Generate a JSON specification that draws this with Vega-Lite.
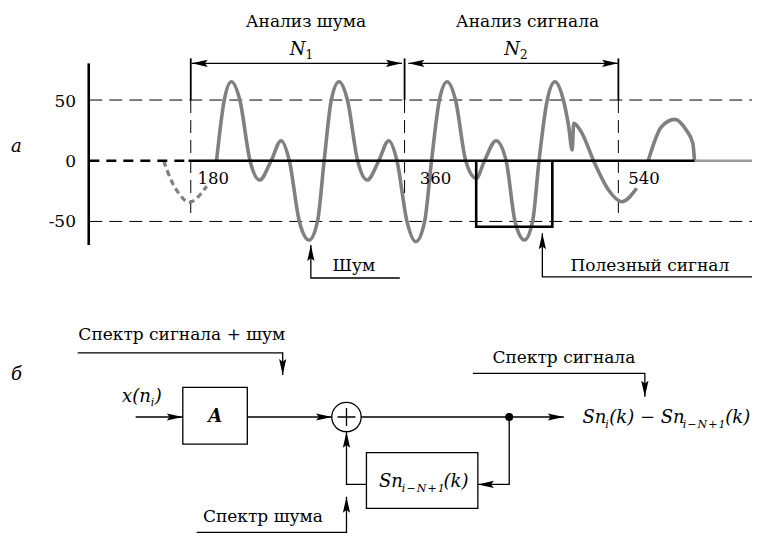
{
  "$schema": "https://vega.github.io/schema/vega-lite/v6.json",
  "width": 758,
  "height": 536,
  "autosize": {"type": "fit", "contains": "padding"},
  "padding": 0,
  "background": "white",
  "config": {"view": {"stroke": null}, "text": {"font": "DejaVu Serif", "color": "black", "baseline": "alphabetic"}},
  "datasets": {
    "wave": [
      {"seg": "lead", "x": 157.2, "y": 0},
      {"seg": "lead", "x": 160.0, "y": -7.7},
      {"seg": "lead", "x": 164.1, "y": -17.3},
      {"seg": "lead", "x": 171.1, "y": -28.3},
      {"seg": "lead", "x": 178.5, "y": -34.5},
      {"seg": "lead", "x": 186.4, "y": -29.5},
      {"seg": "lead", "x": 193.4, "y": -21},
      {"seg": "s1", "x": 201.7, "y": 0},
      {"seg": "s1", "x": 208.2, "y": 50},
      {"seg": "s1", "x": 214.2, "y": 65.1},
      {"seg": "s1", "x": 221.3, "y": 50},
      {"seg": "s1", "x": 229.9, "y": 0},
      {"seg": "s1", "x": 238.0, "y": -15.9},
      {"seg": "s1", "x": 247.7, "y": 0},
      {"seg": "s1", "x": 256.0, "y": 16.5},
      {"seg": "s1", "x": 263.0, "y": 0},
      {"seg": "s1", "x": 271.4, "y": -50},
      {"seg": "s1", "x": 279.7, "y": -65.3},
      {"seg": "s1", "x": 286.7, "y": -50},
      {"seg": "s1", "x": 292.3, "y": 0},
      {"seg": "s1", "x": 298.3, "y": 50},
      {"seg": "s1", "x": 304.8, "y": 65.1},
      {"seg": "s1", "x": 311.9, "y": 50},
      {"seg": "s1", "x": 320.5, "y": 0},
      {"seg": "s1", "x": 328.6, "y": -15.9},
      {"seg": "s1", "x": 338.3, "y": 0},
      {"seg": "s1", "x": 346.6, "y": 16.5},
      {"seg": "s1", "x": 353.6, "y": 0},
      {"seg": "s1", "x": 362.0, "y": -50},
      {"seg": "s1", "x": 369.5, "y": -66.7},
      {"seg": "s1", "x": 376.9, "y": -50},
      {"seg": "s1", "x": 382.7, "y": 0},
      {"seg": "s1", "x": 389.3, "y": 50},
      {"seg": "s1", "x": 395.8, "y": 65.1},
      {"seg": "s1", "x": 402.9, "y": 50},
      {"seg": "s1", "x": 411.5, "y": 0},
      {"seg": "s1", "x": 420.3, "y": -14.5},
      {"seg": "s1", "x": 427.3, "y": 0},
      {"seg": "s1", "x": 437.0, "y": 16.5},
      {"seg": "s1", "x": 445.5, "y": 0},
      {"seg": "s1", "x": 453.0, "y": -50},
      {"seg": "s1", "x": 461.0, "y": -65.3},
      {"seg": "s1", "x": 467.8, "y": -50},
      {"seg": "s1", "x": 473.2, "y": 0},
      {"seg": "s1", "x": 480.1, "y": 50},
      {"seg": "s1", "x": 486.6, "y": 65.1},
      {"seg": "s1", "x": 493.7, "y": 50},
      {"seg": "s1", "x": 498.2, "y": 28.0},
      {"seg": "s1", "x": 501.1, "y": 8.8},
      {"seg": "s1", "x": 502.4, "y": 30.8},
      {"seg": "s1", "x": 509.4, "y": 22.6},
      {"seg": "s1", "x": 519.1, "y": 0},
      {"seg": "s1", "x": 531.7, "y": -24.1},
      {"seg": "s1", "x": 542.9, "y": -33.8},
      {"seg": "s1", "x": 555.4, "y": -22.7},
      {"seg": "s2", "x": 565.1, "y": 0},
      {"seg": "s2", "x": 576.3, "y": 28.0},
      {"seg": "s2", "x": 587.4, "y": 34.1},
      {"seg": "s2", "x": 597.1, "y": 25.3},
      {"seg": "s2", "x": 602.7, "y": 14.3},
      {"seg": "s2", "x": 604.1, "y": 0}
    ],
    "lines": [
      {"id": "g1", "kind": "grid", "ord": 1, "x": 94.6, "y": 50},
      {"id": "g1", "kind": "grid", "ord": 2, "x": 652.5, "y": 50},
      {"id": "g2", "kind": "grid", "ord": 1, "x": 94.6, "y": -50},
      {"id": "g2", "kind": "grid", "ord": 2, "x": 652.5, "y": -50},
      {"id": "m1", "kind": "marker", "ord": 1, "x": 180, "y": 50},
      {"id": "m1", "kind": "marker", "ord": 2, "x": 180, "y": -44.7},
      {"id": "m2", "kind": "marker", "ord": 1, "x": 360, "y": 50},
      {"id": "m2", "kind": "marker", "ord": 2, "x": 360, "y": -44.7},
      {"id": "m3", "kind": "marker", "ord": 1, "x": 540, "y": 50},
      {"id": "m3", "kind": "marker", "ord": 2, "x": 540, "y": -44.7},
      {"id": "b1", "kind": "bracket", "ord": 1, "x": 180, "y": 84.3},
      {"id": "b1", "kind": "bracket", "ord": 2, "x": 180, "y": 50},
      {"id": "b2", "kind": "bracket", "ord": 1, "x": 360, "y": 84.3},
      {"id": "b2", "kind": "bracket", "ord": 2, "x": 360, "y": 50},
      {"id": "b3", "kind": "bracket", "ord": 1, "x": 540, "y": 84.3},
      {"id": "b3", "kind": "bracket", "ord": 2, "x": 540, "y": 50},
      {"id": "s1", "kind": "span", "ord": 1, "x": 180.8, "y": 80.2},
      {"id": "s1", "kind": "span", "ord": 2, "x": 357.8, "y": 80.2},
      {"id": "s2", "kind": "span", "ord": 1, "x": 363.2, "y": 80.2},
      {"id": "s2", "kind": "span", "ord": 2, "x": 539.8, "y": 80.2},
      {"id": "p1", "kind": "pointer", "ord": 1, "x": 356.0, "y": -96.6},
      {"id": "p1", "kind": "pointer", "ord": 2, "x": 281.1, "y": -96.6},
      {"id": "p1", "kind": "pointer", "ord": 3, "x": 281.1, "y": -69.4},
      {"id": "p2", "kind": "pointer", "ord": 1, "x": 652.5, "y": -95.6},
      {"id": "p2", "kind": "pointer", "ord": 2, "x": 476.0, "y": -95.6},
      {"id": "p2", "kind": "pointer", "ord": 3, "x": 476.0, "y": -59.8},
      {"id": "w1", "kind": "wire", "ord": 1, "x": 84.8, "y": -158.2},
      {"id": "w1", "kind": "wire", "ord": 2, "x": 257.4, "y": -158.2},
      {"id": "w1", "kind": "wire", "ord": 3, "x": 257.4, "y": -176.5},
      {"id": "w2", "kind": "wire", "ord": 1, "x": 133.6, "y": -211.1},
      {"id": "w2", "kind": "wire", "ord": 2, "x": 173.3, "y": -211.1},
      {"id": "w3", "kind": "wire", "ord": 1, "x": 227.6, "y": -211.1},
      {"id": "w3", "kind": "wire", "ord": 2, "x": 298.9, "y": -211.1},
      {"id": "w4", "kind": "wire", "ord": 1, "x": 323.4, "y": -211.1},
      {"id": "w4", "kind": "wire", "ord": 2, "x": 494.1, "y": -211.1},
      {"id": "w5", "kind": "wire", "ord": 1, "x": 448.1, "y": -211.1},
      {"id": "w5", "kind": "wire", "ord": 2, "x": 448.1, "y": -266.6},
      {"id": "w5", "kind": "wire", "ord": 3, "x": 421.7, "y": -266.6},
      {"id": "w6", "kind": "wire", "ord": 1, "x": 327.9, "y": -266.6},
      {"id": "w6", "kind": "wire", "ord": 2, "x": 311.1, "y": -266.6},
      {"id": "w6", "kind": "wire", "ord": 3, "x": 311.1, "y": -223.3},
      {"id": "w7", "kind": "wire", "ord": 1, "x": 185.0, "y": -306.1},
      {"id": "w7", "kind": "wire", "ord": 2, "x": 311.1, "y": -306.1},
      {"id": "w7", "kind": "wire", "ord": 3, "x": 311.1, "y": -276.8},
      {"id": "w8", "kind": "wire", "ord": 1, "x": 417.6, "y": -175.1},
      {"id": "w8", "kind": "wire", "ord": 2, "x": 562.3, "y": -175.1},
      {"id": "w8", "kind": "wire", "ord": 3, "x": 562.3, "y": -194.4},
      {"id": "ax", "kind": "axis", "ord": 1, "x": 94.1, "y": 80.2},
      {"id": "ax", "kind": "axis", "ord": 2, "x": 94.1, "y": -69.4},
      {"id": "z", "kind": "zero", "ord": 1, "x": 178.1, "y": 0},
      {"id": "z", "kind": "zero", "ord": 2, "x": 604.1, "y": 0},
      {"id": "pu", "kind": "pulse", "ord": 1, "x": 420.3, "y": 0},
      {"id": "pu", "kind": "pulse", "ord": 2, "x": 420.3, "y": -54.4},
      {"id": "pu", "kind": "pulse", "ord": 3, "x": 484.4, "y": -54.4},
      {"id": "pu", "kind": "pulse", "ord": 4, "x": 484.4, "y": 0},
      {"id": "ld", "kind": "lead", "ord": 1, "x": 94.6, "y": 0},
      {"id": "ld", "kind": "lead", "ord": 2, "x": 178.1, "y": 0},
      {"id": "tl", "kind": "tail", "ord": 1, "x": 604.1, "y": 0},
      {"id": "tl", "kind": "tail", "ord": 2, "x": 652.5, "y": 0}
    ],
    "heads": [
      {"x": 180.8, "y": 80.2, "ang": 180},
      {"x": 357.8, "y": 80.2, "ang": 0},
      {"x": 363.2, "y": 80.2, "ang": 180},
      {"x": 539.8, "y": 80.2, "ang": 0},
      {"x": 281.1, "y": -69.4, "ang": 270},
      {"x": 476.0, "y": -59.8, "ang": 270},
      {"x": 257.4, "y": -176.5, "ang": 90},
      {"x": 173.3, "y": -211.1, "ang": 0},
      {"x": 298.9, "y": -211.1, "ang": 0},
      {"x": 494.1, "y": -211.1, "ang": 0},
      {"x": 421.7, "y": -266.6, "ang": 180},
      {"x": 311.1, "y": -223.3, "ang": 270},
      {"x": 311.1, "y": -276.8, "ang": 270},
      {"x": 562.3, "y": -194.4, "ang": 90}
    ],
    "blocks": [
      {"name": "A", "x": 173.3, "x2": 227.6, "y": -186.7, "y2": -233.4},
      {"name": "delay", "x": 327.9, "x2": 421.7, "y": -240.5, "y2": -286.3}
    ],
    "nodes": [
      {"kind": "sum", "x": 311.1, "y": -211.1},
      {"kind": "split", "x": 448.1, "y": -211.1}
    ],
    "texts": [
      {"role": "heading", "x": 276.9, "y": 110.5, "label": "Анализ шума"},
      {"role": "heading", "x": 463.5, "y": 110.5, "label": "Анализ сигнала"},
      {"role": "heading", "x": 317.3, "y": -90.6, "label": "Шум"},
      {"role": "heading", "x": 566.5, "y": -91.0, "label": "Полезный сигнал"},
      {"role": "heading", "x": 172.5, "y": -147.7, "label": "Спектр сигнала + шум"},
      {"role": "heading", "x": 494.1, "y": -166.9, "label": "Спектр сигнала"},
      {"role": "heading", "x": 240.7, "y": -297.4, "label": "Спектр шума"},
      {"role": "ytick", "x": 83.4, "y": 44.5, "label": "50"},
      {"role": "ytick", "x": 83.4, "y": -4.9, "label": "0"},
      {"role": "ytick", "x": 83.4, "y": -54.4, "label": "-50"},
      {"role": "xtick", "x": 185.6, "y": -19.5, "label": "180"},
      {"role": "xtick", "x": 372.7, "y": -19.5, "label": "360"},
      {"role": "xtick", "x": 548.4, "y": -19.5, "label": "540"},
      {"role": "panel", "x": 33.2, "y": 7.4, "label": "а"},
      {"role": "panel", "x": 33.3, "y": -180.6, "label": "б"},
      {"role": "var", "x": 276.6, "y": 87.1, "label": "N"},
      {"role": "var", "x": 457.1, "y": 87.1, "label": "N"},
      {"role": "varsub", "x": 276.6, "y": 83.8, "label": "1"},
      {"role": "varsub", "x": 457.1, "y": 83.8, "label": "2"},
      {"role": "math", "x": 509.7, "y": -216.1, "label": "Sn"},
      {"role": "math", "x": 532.3, "y": -216.1, "label": "(k) \u2212 Sn"},
      {"role": "math", "x": 630.0, "y": -216.1, "label": "(k)"},
      {"role": "math", "x": 338.5, "y": -268.8, "label": "Sn"},
      {"role": "math", "x": 392.8, "y": -268.8, "label": "(k)"},
      {"role": "math", "x": 122.1, "y": -198.8, "label": "x(n"},
      {"role": "math", "x": 149.7, "y": -198.8, "label": ")"},
      {"role": "mathsub", "x": 528.9, "y": -220.2, "label": "i"},
      {"role": "mathsub", "x": 594.1, "y": -220.2, "label": "i\u200a\u2212\u200aN\u200a+\u200a1"},
      {"role": "mathsub", "x": 357.7, "y": -272.9, "label": "i\u200a\u2212\u200aN\u200a+\u200a1"},
      {"role": "mathsub", "x": 146.4, "y": -202.1, "label": "i"},
      {"role": "block", "x": 200.5, "y": -215.0, "label": "A"}
    ]
  },
  "encoding": {
    "x": {"field": "x", "type": "quantitative", "scale": {"domain": [19.4, 652.5], "nice": false, "zero": false}, "axis": null},
    "y": {"field": "y", "type": "quantitative", "scale": {"domain": [-309.1, 132.4], "nice": false, "zero": false}, "axis": null}
  },
  "layer": [
    {
      "data": {"name": "lines"},
      "transform": [{"filter": {"field": "kind", "oneOf": ["grid", "marker"]}}],
      "mark": {"type": "line", "color": "black", "strokeWidth": 1, "strokeDash": [13, 7]},
      "encoding": {"detail": {"field": "id"}, "order": {"field": "ord"}}
    },
    {
      "data": {"name": "wave"},
      "transform": [{"filter": {"field": "seg", "equal": "lead"}}],
      "mark": {"type": "line", "interpolate": "monotone", "color": "#808080", "strokeWidth": 3.2, "strokeDash": [6, 4]},
      "encoding": {"detail": {"field": "seg"}}
    },
    {
      "data": {"name": "wave"},
      "transform": [{"filter": {"field": "seg", "oneOf": ["s1", "s2"]}}],
      "mark": {"type": "line", "interpolate": "monotone", "color": "#808080", "strokeWidth": 3.6},
      "encoding": {"detail": {"field": "seg"}}
    },
    {
      "data": {"name": "lines"},
      "transform": [{"filter": {"field": "kind", "equal": "tail"}}],
      "mark": {"type": "line", "color": "#9a9a9a", "strokeWidth": 2.6},
      "encoding": {"detail": {"field": "id"}, "order": {"field": "ord"}}
    },
    {
      "data": {"name": "lines"},
      "transform": [{"filter": {"field": "kind", "equal": "lead"}}],
      "mark": {"type": "line", "color": "black", "strokeWidth": 2.6, "strokeDash": [10, 7]},
      "encoding": {"detail": {"field": "id"}, "order": {"field": "ord"}}
    },
    {
      "data": {"name": "lines"},
      "transform": [{"filter": {"field": "kind", "oneOf": ["axis", "zero", "pulse"]}}],
      "mark": {"type": "line", "color": "black", "strokeWidth": 2.6},
      "encoding": {"detail": {"field": "id"}, "order": {"field": "ord"}}
    },
    {
      "data": {"name": "lines"},
      "transform": [{"filter": {"field": "kind", "equal": "bracket"}}],
      "mark": {"type": "line", "color": "black", "strokeWidth": 1.8},
      "encoding": {"detail": {"field": "id"}, "order": {"field": "ord"}}
    },
    {
      "data": {"name": "lines"},
      "transform": [{"filter": {"field": "kind", "oneOf": ["span", "pointer", "wire"]}}],
      "mark": {"type": "line", "color": "black", "strokeWidth": 1.3},
      "encoding": {"detail": {"field": "id"}, "order": {"field": "ord"}}
    },
    {
      "data": {"name": "blocks"},
      "mark": {"type": "rect", "fill": "white", "stroke": "black", "strokeWidth": 1.3},
      "encoding": {"x2": {"field": "x2"}, "y2": {"field": "y2"}}
    },
    {
      "data": {"name": "nodes"},
      "transform": [{"filter": {"field": "kind", "equal": "sum"}}],
      "mark": {"type": "point", "shape": "circle", "size": 864, "fill": "white", "stroke": "black", "strokeWidth": 1.3, "opacity": 1, "fillOpacity": 1}
    },
    {
      "data": {"name": "nodes"},
      "transform": [{"filter": {"field": "kind", "equal": "sum"}}],
      "mark": {"type": "point", "shape": "M-1,0L1,0M0,-1L0,1", "size": 324, "filled": false, "stroke": "black", "strokeWidth": 1.3, "opacity": 1}
    },
    {
      "data": {"name": "nodes"},
      "transform": [{"filter": {"field": "kind", "equal": "split"}}],
      "mark": {"type": "point", "shape": "circle", "size": 64, "filled": true, "color": "black", "opacity": 1}
    },
    {
      "data": {"name": "heads"},
      "mark": {"type": "point", "shape": "M0,0L-4,-0.9L-3.3,0L-4,0.9Z", "size": 64, "filled": true, "color": "black", "opacity": 1, "strokeWidth": 0},
      "encoding": {"angle": {"field": "ang", "type": "quantitative", "scale": null}}
    },
    {
      "data": {"name": "texts"},
      "transform": [{"filter": {"field": "role", "equal": "heading"}}],
      "mark": {"type": "text", "align": "center", "font": "DejaVu Serif", "fontSize": 17},
      "encoding": {"text": {"field": "label"}}
    },
    {
      "data": {"name": "texts"},
      "transform": [{"filter": {"field": "role", "equal": "ytick"}}],
      "mark": {"type": "text", "align": "right", "font": "DejaVu Serif", "fontSize": 17},
      "encoding": {"text": {"field": "label"}}
    },
    {
      "data": {"name": "texts"},
      "transform": [{"filter": {"field": "role", "equal": "xtick"}}],
      "mark": {"type": "text", "align": "left", "font": "DejaVu Serif", "fontSize": 16.5},
      "encoding": {"text": {"field": "label"}}
    },
    {
      "data": {"name": "texts"},
      "transform": [{"filter": {"field": "role", "equal": "panel"}}],
      "mark": {"type": "text", "align": "center", "font": "DejaVu Serif", "fontSize": 18, "fontStyle": "italic"},
      "encoding": {"text": {"field": "label"}}
    },
    {
      "data": {"name": "texts"},
      "transform": [{"filter": {"field": "role", "equal": "var"}}],
      "mark": {"type": "text", "align": "right", "font": "DejaVu Serif", "fontSize": 18, "fontStyle": "italic"},
      "encoding": {"text": {"field": "label"}}
    },
    {
      "data": {"name": "texts"},
      "transform": [{"filter": {"field": "role", "equal": "varsub"}}],
      "mark": {"type": "text", "align": "left", "font": "DejaVu Serif", "fontSize": 12},
      "encoding": {"text": {"field": "label"}}
    },
    {
      "data": {"name": "texts"},
      "transform": [{"filter": {"field": "role", "equal": "math"}}],
      "mark": {"type": "text", "align": "left", "font": "DejaVu Serif", "fontSize": 18, "fontStyle": "italic"},
      "encoding": {"text": {"field": "label"}}
    },
    {
      "data": {"name": "texts"},
      "transform": [{"filter": {"field": "role", "equal": "mathsub"}}],
      "mark": {"type": "text", "align": "left", "font": "DejaVu Serif", "fontSize": 11, "fontStyle": "italic"},
      "encoding": {"text": {"field": "label"}}
    },
    {
      "data": {"name": "texts"},
      "transform": [{"filter": {"field": "role", "equal": "block"}}],
      "mark": {"type": "text", "align": "center", "font": "DejaVu Serif", "fontSize": 18, "fontStyle": "italic", "fontWeight": "bold"},
      "encoding": {"text": {"field": "label"}}
    }
  ]
}
